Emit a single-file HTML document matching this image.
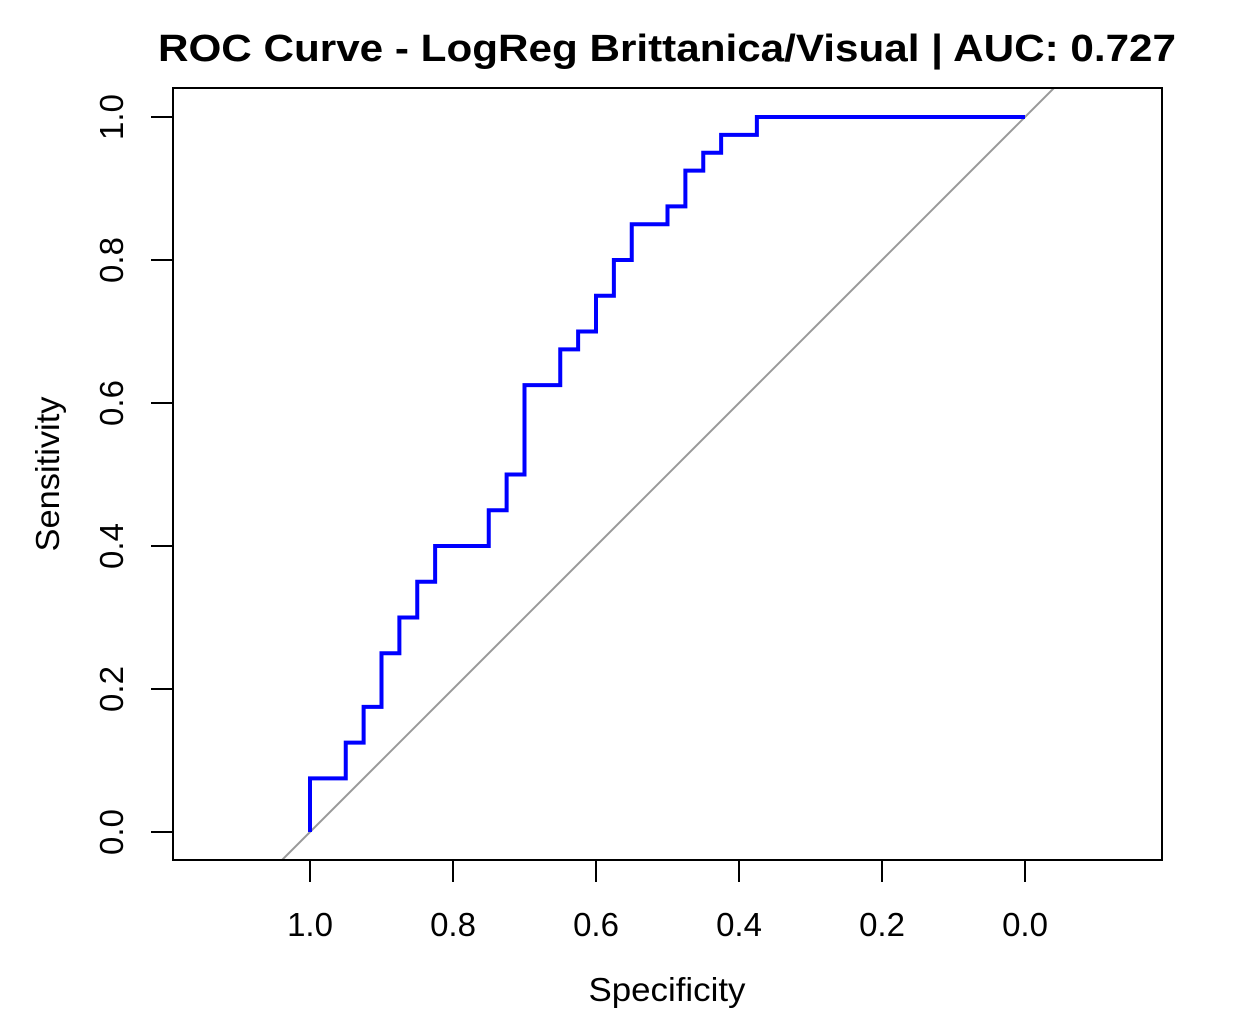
<!DOCTYPE html>
<html><head><meta charset="utf-8"><style>
html,body{margin:0;padding:0;background:#fff;}
svg{display:block;font-family:"Liberation Sans",Arial,sans-serif;}
</style></head><body>
<svg id="chart" width="1251" height="1034" viewBox="0 0 1251 1034" xmlns="http://www.w3.org/2000/svg">
<text x="667" y="61" text-anchor="middle" font-size="38" font-weight="bold" textLength="1018" lengthAdjust="spacingAndGlyphs">ROC Curve - LogReg Brittanica/Visual | AUC: 0.727</text>
<defs><clipPath id="pc"><rect x="173" y="88" width="989" height="772"/></clipPath></defs>
<g id="diag" clip-path="url(#pc)"></g>
<g id="curve"></g>
<rect x="173" y="88" width="989" height="772" fill="none" stroke="#000" stroke-width="2"/>
<g id="xaxis"></g><g id="yaxis"></g>
<text x="667" y="1001" text-anchor="middle" font-size="33" textLength="157" lengthAdjust="spacingAndGlyphs">Specificity</text>
<text transform="translate(59,474) rotate(-90)" text-anchor="middle" font-size="33" textLength="155" lengthAdjust="spacingAndGlyphs">Sensitivity</text>
</svg>
<script>
const specVals=[1.0,1.0,0.95,0.95,0.925,0.925,0.9,0.9,0.875,0.875,0.85,0.85,0.825,0.825,0.75,0.75,0.725,0.725,0.7,0.7,0.65,0.65,0.625,0.625,0.6,0.6,0.575,0.575,0.55,0.55,0.5,0.5,0.475,0.475,0.45,0.45,0.425,0.425,0.375,0.375,0.0];
const sensVals=[0,0.075,0.075,0.125,0.125,0.175,0.175,0.25,0.25,0.3,0.3,0.35,0.35,0.4,0.4,0.45,0.45,0.5,0.5,0.625,0.625,0.675,0.675,0.7,0.7,0.75,0.75,0.8,0.8,0.85,0.85,0.875,0.875,0.925,0.925,0.95,0.95,0.975,0.975,1.0,1.0];
const xTicks=[1.0,0.8,0.6,0.4,0.2,0.0];
const yTicks=[0.0,0.2,0.4,0.6,0.8,1.0];
const NS="http://www.w3.org/2000/svg";
function xs(v){return 1025-(1025-310)*v;}
function ys(v){return 832-(832-117)*v;}
function mk(t,a){const e=document.createElementNS(NS,t);for(const k in a)e.setAttribute(k,a[k]);return e;}
const diag=mk('line',{x1:xs(1.2),y1:ys(-0.2),x2:xs(-0.2),y2:ys(1.2),stroke:'#999',"stroke-width":2});


document.getElementById('diag').appendChild(diag);
const pts=specVals.map((s,i)=>xs(s)+','+ys(sensVals[i])).join(' ');
const pl=mk('polyline',{points:pts,fill:'none',stroke:'#0000ff',"stroke-width":4,"stroke-linejoin":"miter"});


document.getElementById('curve').appendChild(pl);
const xa=document.getElementById('xaxis');
xTicks.forEach(v=>{
 const l=mk('line',{x1:xs(v),y1:860,x2:xs(v),y2:882,stroke:'#000',"stroke-width":2});
 
 
 xa.appendChild(l);
 const t=mk('text',{x:xs(v),y:936,"text-anchor":"middle","font-size":33});
 
 
 t.textContent=v.toFixed(1);xa.appendChild(t);
});
const ya=document.getElementById('yaxis');
yTicks.forEach(v=>{
 const l=mk('line',{x1:151,y1:ys(v),x2:173,y2:ys(v),stroke:'#000',"stroke-width":2});
 
 
 ya.appendChild(l);
 const t=mk('text',{transform:`translate(123,${ys(v)}) rotate(-90)`,"text-anchor":"middle","font-size":33});
 
 
 t.textContent=v.toFixed(1);ya.appendChild(t);
});
</script>
</body></html>
